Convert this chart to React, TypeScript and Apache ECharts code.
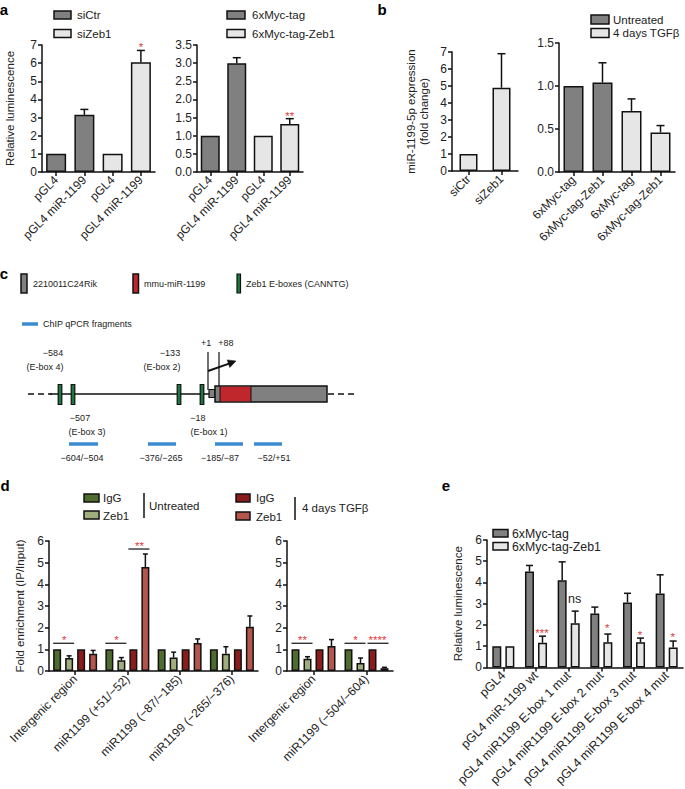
import React, { useEffect, useRef } from "react";
import * as echarts from "echarts";

const FONT = "'Liberation Sans', Arial, Helvetica, sans-serif";
const DARK = "#808080";
const LIGHT = "#e6e6e6";
const STAR = "#e23b3b";
const INK = "#111111";
const G_DARK = "#4e6c2e";
const G_LIGHT = "#9fae7c";
const R_DARK = "#8c1c1c";
const R_LIGHT = "#b5564d";
const BLUE = "#3a8bd0";

// ---------- Panel a ----------
const aLeftCats = ["pGL4", "pGL4 miR-1199", "pGL4", "pGL4 miR-1199"];
const aLeftSiCtr = [1, 3.15, null, null];
const aLeftSiZeb1 = [null, null, 1, 6.05];
const aLeftErr = [0, 0.3, 0, 0.65];

const aRightCats = ["pGL4", "pGL4 miR-1199", "pGL4", "pGL4 miR-1199"];
const aRightMyc = [1, 3.0, null, null];
const aRightMycZeb1 = [null, null, 1, 1.32];
const aRightErr = [0, 0.15, 0, 0.15];

// ---------- Panel b ----------
const bLeftCats = ["siCtr", "siZeb1"];
const bLeftValues = [1, 4.9];
const bLeftErr = [0, 2.0];

const bRightCats = ["6xMyc-tag", "6xMyc-tag-Zeb1", "6xMyc-tag", "6xMyc-tag-Zeb1"];
const bRightUntreated = [1, 1.04, null, null];
const bRightTgf = [null, null, 0.71, 0.46];
const bRightErr = [0, 0.23, 0.14, 0.08];

// ---------- Panel d ----------
const dLeftCats = ["Intergenic region", "miR1199 (+51/−52)", "miR1199 (−87/−185)", "miR1199 (−265/−376)"];
const dLeftIgGUntr = [1, 1, 1, 1];
const dLeftZeb1Untr = [0.6, 0.5, 0.62, 0.8];
const dLeftZeb1UntrErr = [0.1, 0.12, 0.25, 0.32];
const dLeftIgGTgf = [1, 1, 1, 1];
const dLeftZeb1Tgf = [0.8, 4.8, 1.29, 2.04];
const dLeftZeb1TgfErr = [0.15, 0.6, 0.19, 0.5];

const dRightCats = ["Intergenic region", "miR1199 (−504/−604)"];
const dRightIgGUntr = [1, 1];
const dRightZeb1Untr = [0.56, 0.37];
const dRightZeb1UntrErr = [0.1, 0.23];
const dRightIgGTgf = [1, 1];
const dRightZeb1Tgf = [1.15, 0.13];
const dRightZeb1TgfErr = [0.3, 0.04];

// ---------- Panel e ----------
const eCats = [
  "pGL4",
  "pGL4 miR-1199 wt",
  "pGL4 miR1199 E-box 1 mut",
  "pGL4 miR1199 E-box 2 mut",
  "pGL4 miR1199 E-box 3 mut",
  "pGL4 miR1199 E-box 4 mut",
];
const eMyc = [1, 4.52, 4.1, 2.54, 3.06, 3.48];
const eMycErr = [0, 0.28, 0.87, 0.3, 0.43, 0.88];
const eZeb1 = [1, 1.16, 2.08, 1.18, 1.18, 0.94];
const eZeb1Err = [0, 0.31, 0.57, 0.39, 0.2, 0.3];

// significance annotations: category, height (data units), text, line span offsets (px), text offset (px)
type Sig = { cat: number; y: number; text: string; x1?: number; x2?: number; dx: number; black?: boolean };
const aLeftSig: Sig[] = [{ cat: 3, y: 7.05, text: "*", dx: 0 }];
const aRightSig: Sig[] = [{ cat: 3, y: 1.62, text: "**", dx: 0 }];
const dLeftSig: Sig[] = [
  { cat: 0, y: 1.28, text: "*", x1: -22, x2: -1, dx: -11 },
  { cat: 1, y: 1.28, text: "*", x1: -22, x2: -1, dx: -11 },
  { cat: 1, y: 5.63, text: "**", x1: 1, x2: 22, dx: 12 },
];
const dRightSig: Sig[] = [
  { cat: 0, y: 1.28, text: "**", x1: -22, x2: -1, dx: -11 },
  { cat: 1, y: 1.28, text: "*", x1: -22, x2: -1, dx: -11 },
  { cat: 1, y: 1.28, text: "****", x1: 1, x2: 22, dx: 11 },
];
const eSig: Sig[] = [
  { cat: 1, y: 1.75, text: "***", dx: 6 },
  { cat: 2, y: 3.21, text: "ns", dx: 6, black: true },
  { cat: 3, y: 1.98, text: "*", dx: 6 },
  { cat: 4, y: 1.68, text: "*", dx: 6 },
  { cat: 5, y: 1.57, text: "*", dx: 6 },
];

const grids = [
  { left: 42, top: 45, width: 113, height: 127 }, // a left
  { left: 197, top: 45, width: 106, height: 127 }, // a right
  { left: 452, top: 52, width: 66, height: 119 }, // b left
  { left: 559, top: 43, width: 116, height: 129 }, // b right
  { left: 49, top: 541, width: 209, height: 130 }, // d left
  { left: 287, top: 541, width: 106, height: 130 }, // d right
  { left: 487, top: 540, width: 196, height: 131 }, // e
];

const axisLineStyle = { color: INK, width: 1.5 };

function yAx(grid: number, max: number, interval: number, extra: any = {}) {
  const { axisLabel, ...rest } = extra;
  return {
    type: "value",
    gridIndex: grid,
    min: 0,
    max,
    interval,
    axisLine: { show: true, lineStyle: axisLineStyle },
    axisTick: { show: true, length: 4, lineStyle: axisLineStyle },
    axisLabel: { fontSize: 12, color: "#222", fontFamily: FONT, margin: 5, ...(axisLabel || {}) },
    splitLine: { show: false },
    nameLocation: "middle",
    nameTextStyle: { fontSize: 11.5, color: "#222", fontFamily: FONT, lineHeight: 13 },
    ...rest,
  };
}

function xAx(grid: number, data: string[], fontSize = 12) {
  return {
    type: "category",
    gridIndex: grid,
    data,
    axisLine: { show: true, lineStyle: axisLineStyle },
    axisTick: { show: true, alignWithLabel: true, length: 4, lineStyle: axisLineStyle },
    axisLabel: { rotate: 45, interval: 0, fontSize, color: "#222", fontFamily: FONT, margin: 6 },
    splitLine: { show: false },
  };
}

function bar(grid: number, name: string, data: (number | null)[], color: string, extra: any = {}) {
  return {
    type: "bar",
    name,
    xAxisIndex: grid,
    yAxisIndex: grid,
    data: data.map((v) => (v == null ? "-" : v)),
    itemStyle: { color, borderColor: INK, borderWidth: 1.5 },
    silent: true,
    ...extra,
  };
}

function errSeries(grid: number, values: (number | null)[], errs: number[], offset: number, capW: number) {
  const data: number[][] = [];
  values.forEach((v, i) => {
    if (v != null && errs[i] > 0) data.push([i, v, v + errs[i]]);
  });
  return {
    type: "custom",
    xAxisIndex: grid,
    yAxisIndex: grid,
    z: 5,
    silent: true,
    data,
    renderItem: (_p: any, api: any) => {
      const p0 = api.coord([api.value(0), api.value(1)]);
      const p1 = api.coord([api.value(0), api.value(2)]);
      const x = p0[0] + offset;
      return {
        type: "group",
        children: [
          { type: "line", shape: { x1: x, y1: p0[1], x2: x, y2: p1[1] }, style: { stroke: INK, lineWidth: 1.5 } },
          { type: "line", shape: { x1: x - capW / 2, y1: p1[1], x2: x + capW / 2, y2: p1[1] }, style: { stroke: INK, lineWidth: 1.5 } },
        ],
      };
    },
  };
}

function sigSeries(grid: number, sigs: Sig[]) {
  return {
    type: "custom",
    xAxisIndex: grid,
    yAxisIndex: grid,
    z: 6,
    silent: true,
    itemStyle: { color: "#222" },
    data: sigs.map((s) => [s.cat, s.y]),
    renderItem: (params: any, api: any) => {
      const s = sigs[params.dataIndex];
      const p = api.coord([s.cat, s.y]);
      const children: any[] = [];
      const hasLine = s.x1 !== undefined;
      if (hasLine) {
        children.push({
          type: "line",
          shape: { x1: p[0] + (s.x1 as number), y1: p[1], x2: p[0] + (s.x2 as number), y2: p[1] },
          style: { stroke: INK, lineWidth: 1.2 },
        });
      }
      const isStar = s.text.indexOf("*") >= 0;
      const color = s.black ? "#222222" : STAR;
      children.push({
        type: "text",
        x: p[0] + s.dx,
        y: hasLine ? p[1] + 3 : p[1] + (isStar ? 3 : 0),
        style: {
          text: s.text,
          fill: color,
          fontSize: isStar ? 11.5 : 12.5,
          fontFamily: FONT,
          align: "center",
          verticalAlign: hasLine ? "bottom" : "middle",
        },
      });
      return { type: "group", children };
    },
  };
}

// ---------- graphic helpers ----------
function rect(x: number, y: number, w: number, h: number, fill: string, lw = 1.5) {
  return { type: "rect", shape: { x, y, width: w, height: h }, style: { fill, stroke: INK, lineWidth: lw }, silent: true };
}
function txt(x: number, y: number, text: string, size = 11.5, align = "left", extra: any = {}) {
  return {
    type: "text",
    x,
    y,
    silent: true,
    style: {
      text,
      fill: "#222",
      fontSize: size,
      fontFamily: FONT,
      align,
      verticalAlign: "middle",
      ...extra,
    },
  };
}
function ln(x1: number, y1: number, x2: number, y2: number, stroke = INK, lw = 1.5, extra: any = {}) {
  return { type: "line", silent: true, shape: { x1, y1, x2, y2 }, style: { stroke, lineWidth: lw, ...extra } };
}
function label(x: number, y: number, t: string) {
  return txt(x, y, t, 15, "center", { fontWeight: "bold", fill: "#000" });
}

function buildGraphic() {
  const el: any[] = [];
  // panel letters
  el.push(label(4, 9, "a"), label(382, 9, "b"), label(4, 273, "c"), label(5, 485, "d"), label(446, 485, "e"));

  // legend a left
  el.push(rect(54, 11, 17, 8, DARK), txt(77, 15, "siCtr"));
  el.push(rect(54, 29.5, 17, 8, LIGHT), txt(77, 33.5, "siZeb1"));
  // legend a right
  el.push(rect(227, 11, 18, 8, DARK), txt(252, 15, "6xMyc-tag"));
  el.push(rect(227, 29.5, 18, 8, LIGHT), txt(252, 33.5, "6xMyc-tag-Zeb1"));
  // legend b
  el.push(rect(591, 15, 18, 9, DARK), txt(613, 19.5, "Untreated"));
  el.push(rect(591, 28.5, 18, 9, LIGHT), txt(613, 33, "4 days TGFβ"));

  // ---------- panel c ----------
  const cs = 9;
  el.push(rect(21, 274, 6, 19, DARK), txt(33, 284, "2210011C24Rik", cs));
  el.push(rect(133, 274, 5.5, 19, "#c0272d"), txt(144, 284, "mmu-miR-1199", cs));
  el.push(rect(237, 274, 3.5, 19, "#1d7a3e", 1.2), txt(246, 284, "Zeb1 E-boxes (CANNTG)", cs));
  el.push(ln(22, 324, 38, 324, BLUE, 3.5), txt(43, 324, "ChIP qPCR fragments", cs));

  // genomic line
  el.push(ln(28, 394, 52, 394, INK, 1.5, { lineDash: [6, 4] }));
  el.push(ln(50, 394, 216, 394, INK, 1.5));
  el.push(ln(328, 394, 356, 394, INK, 1.5, { lineDash: [6, 4] }));
  // E-boxes
  [60, 73, 179, 202].forEach((x) => el.push(rect(x - 1.8, 384.5, 3.6, 20, "#1d7a3e", 1.2)));
  // small exon + main transcript
  el.push(rect(209, 389.5, 6, 8, DARK, 1.2));
  el.push(rect(215, 386, 112, 16, DARK, 1.5));
  el.push({ type: "rect", silent: true, shape: { x: 220, y: 386.75, width: 31, height: 14.5 }, style: { fill: "#c0272d", stroke: "none" } });
  el.push(ln(220, 386, 220, 402, INK, 1));
  el.push(ln(251, 386, 251, 402, INK, 1));
  // TSS lines and arrow
  el.push(ln(208, 352, 208, 390, INK, 1.2));
  el.push(ln(219, 352, 219, 386, INK, 1.2));
  el.push(ln(208, 371, 229, 363.6, INK, 2));
  el.push({
    type: "polygon",
    silent: true,
    shape: { points: [[236, 361], [229.8, 367.5], [227.2, 359.9]] },
    style: { fill: INK, stroke: INK, lineWidth: 0.5 },
  });
  el.push(txt(206, 343, "+1", cs, "center"), txt(226, 343, "+88", cs, "center"));
  el.push(txt(53, 353, "−584", cs, "center"), txt(45, 367, "(E-box 4)", cs, "center"));
  el.push(txt(170, 353, "−133", cs, "center"), txt(162, 367, "(E-box 2)", cs, "center"));
  el.push(txt(80, 418, "−507", cs, "center"), txt(87, 432, "(E-box 3)", cs, "center"));
  el.push(txt(198, 418, "−18", cs, "center"), txt(209, 432, "(E-box 1)", cs, "center"));
  // fragments
  [[69, 98], [148, 176], [215, 243], [254, 282]].forEach(([a, b]) => el.push(ln(a, 444, b, 444, BLUE, 3.5)));
  el.push(txt(82, 458, "−604/−504", cs, "center"));
  el.push(txt(161, 458, "−376/−265", cs, "center"));
  el.push(txt(220, 458, "−185/−87", cs, "center"));
  el.push(txt(274, 458, "−52/+51", cs, "center"));

  // ---------- legend d ----------
  el.push(rect(84, 494, 15, 8, G_DARK), txt(103, 498, "IgG"));
  el.push(rect(84, 511, 15, 8, G_LIGHT), txt(103, 516, "Zeb1"));
  el.push(ln(144, 493, 144, 518, INK, 1.5), txt(149, 506, "Untreated"));
  el.push(rect(236, 494, 14, 8, R_DARK), txt(256, 498, "IgG"));
  el.push(rect(236, 512, 14, 8, R_LIGHT), txt(256, 517, "Zeb1"));
  el.push(ln(295, 497, 295, 520, INK, 1.5), txt(302, 508, "4 days TGFβ"));

  // ---------- legend e ----------
  el.push(rect(493, 529.5, 15, 7.5, DARK), txt(512, 533.5, "6xMyc-tag", 12.3));
  el.push(rect(493, 542.5, 15, 7.5, LIGHT), txt(512, 546.5, "6xMyc-tag-Zeb1", 12.3));
  return el;
}

function buildOption(): any {
  const fmt1 = (v: number) => v.toFixed(1);
  const xAxis = [
    xAx(0, aLeftCats),
    xAx(1, aRightCats),
    xAx(2, bLeftCats),
    xAx(3, bRightCats),
    xAx(4, dLeftCats, 12),
    xAx(5, dRightCats, 12),
    xAx(6, eCats, 12.5),
  ];
  const yAxis = [
    yAx(0, 7, 1, { name: "Relative luminescence", nameGap: 26 }),
    yAx(1, 3.5, 0.5, { axisLabel: { formatter: fmt1 } }),
    yAx(2, 7, 1, { name: "miR-1199-5p expression\n(fold change)", nameGap: 22 }),
    yAx(3, 1.5, 0.5, { axisLabel: { formatter: fmt1 } }),
    yAx(4, 6, 1, { name: "Fold enrichment (IP/Input)", nameGap: 23 }),
    yAx(5, 6, 1),
    yAx(6, 6, 1, { name: "Relative luminescence", nameGap: 23 }),
  ];
  const dBars = (grid: number, a: number[], b: number[], c: number[], d: number[]) => [
    bar(grid, "IgG untreated", a, G_DARK, { barWidth: 8, barGap: "50%" }),
    bar(grid, "Zeb1 untreated", b, G_LIGHT, { barWidth: 8, barGap: "50%" }),
    bar(grid, "IgG 4 days TGFβ", c, R_DARK, { barWidth: 8, barGap: "50%" }),
    bar(grid, "Zeb1 4 days TGFβ", d, R_LIGHT, { barWidth: 8, barGap: "50%" }),
  ];
  const series: any[] = [
    // a left
    bar(0, "siCtr", aLeftSiCtr, DARK, { barWidth: 20, barGap: "-100%" }),
    bar(0, "siZeb1", aLeftSiZeb1, LIGHT, { barWidth: 20, barGap: "-100%" }),
    errSeries(0, aLeftSiCtr.map((v, i) => (v == null ? aLeftSiZeb1[i] : v)), aLeftErr, 0, 8),
    sigSeries(0, aLeftSig),
    // a right
    bar(1, "6xMyc-tag", aRightMyc, DARK, { barWidth: 19, barGap: "-100%" }),
    bar(1, "6xMyc-tag-Zeb1", aRightMycZeb1, LIGHT, { barWidth: 19, barGap: "-100%" }),
    errSeries(1, aRightMyc.map((v, i) => (v == null ? aRightMycZeb1[i] : v)), aRightErr, 0, 8),
    sigSeries(1, aRightSig),
    // b left
    bar(2, "miR-1199-5p", bLeftValues, LIGHT, { barWidth: 18 }),
    errSeries(2, bLeftValues, bLeftErr, 0, 8),
    // b right
    bar(3, "Untreated", bRightUntreated, DARK, { barWidth: 20, barGap: "-100%" }),
    bar(3, "4 days TGFβ", bRightTgf, LIGHT, { barWidth: 20, barGap: "-100%" }),
    errSeries(3, bRightUntreated.map((v, i) => (v == null ? bRightTgf[i] : v)), bRightErr, 0, 8),
    // d left
    ...dBars(4, dLeftIgGUntr, dLeftZeb1Untr, dLeftIgGTgf, dLeftZeb1Tgf),
    errSeries(4, dLeftZeb1Untr, dLeftZeb1UntrErr, -6, 5),
    errSeries(4, dLeftZeb1Tgf, dLeftZeb1TgfErr, 18, 5),
    sigSeries(4, dLeftSig),
    // d right
    ...dBars(5, dRightIgGUntr, dRightZeb1Untr, dRightIgGTgf, dRightZeb1Tgf),
    errSeries(5, dRightZeb1Untr, dRightZeb1UntrErr, -6, 5),
    errSeries(5, dRightZeb1Tgf, dRightZeb1TgfErr, 18, 5),
    sigSeries(5, dRightSig),
    // e
    bar(6, "6xMyc-tag", eMyc, DARK, { barWidth: 9, barGap: "45%" }),
    bar(6, "6xMyc-tag-Zeb1", eZeb1, LIGHT, { barWidth: 9, barGap: "45%" }),
    errSeries(6, eMyc, eMycErr, -6.5, 7),
    errSeries(6, eZeb1, eZeb1Err, 6.5, 7),
    sigSeries(6, eSig),
  ];
  return {
    animation: false,
    backgroundColor: "#ffffff",
    textStyle: { fontFamily: FONT },
    grid: grids,
    xAxis,
    yAxis,
    series,
    graphic: { elements: buildGraphic() },
  };
}

export default function App() {
  const ref = useRef<HTMLDivElement>(null);
  useEffect(() => {
    if (!ref.current) return;
    const chart = echarts.init(ref.current, null, { renderer: "svg", width: 685, height: 789 });
    chart.setOption(buildOption());
    return () => chart.dispose();
  }, []);
  return (
    <div
      ref={ref}
      style={{ position: "fixed", left: 0, top: 0, width: 685, height: 789, background: "#fff" }}
    />
  );
}
